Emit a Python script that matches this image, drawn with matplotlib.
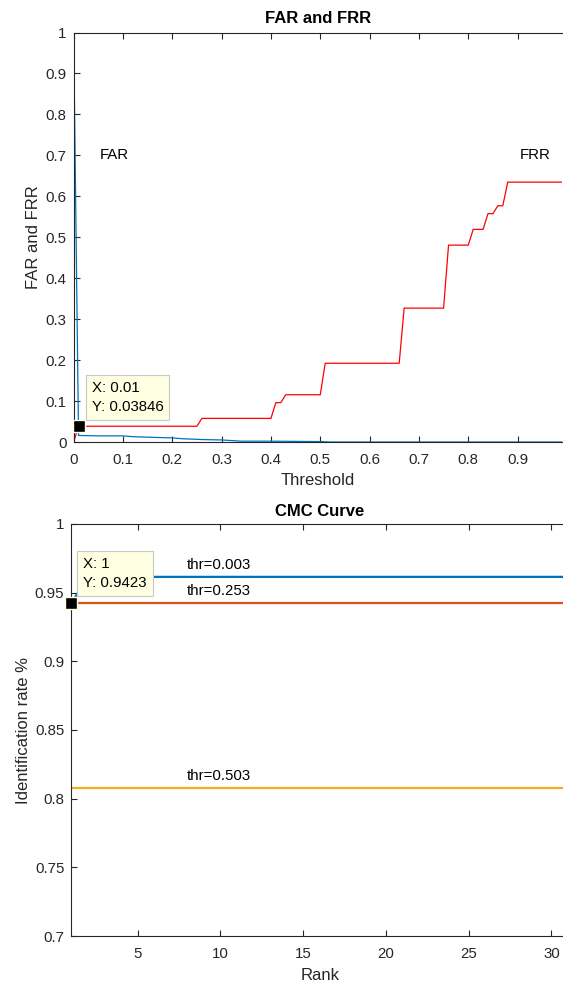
import matplotlib.pyplot as plt

plt.rcParams['font.family'] = ['Liberation Sans', 'DejaVu Sans']

# FAR / FRR vs threshold
far_thr = [0, 0.01, 0.05, 0.10, 0.12, 0.17, 0.20, 0.22, 0.26, 0.30, 0.34, 0.40, 0.45, 0.50, 0.52, 0.99]
far_val = [1, 0.016, 0.015, 0.015, 0.013, 0.011, 0.010, 0.008, 0.006, 0.005, 0.002, 0.002, 0.0015, 0.001, 0, 0]

frr_thr = [0, 0.01, 0.25, 0.26, 0.40, 0.41, 0.42, 0.43, 0.50, 0.51, 0.66, 0.67, 0.75, 0.76,
           0.80, 0.81, 0.83, 0.84, 0.85, 0.86, 0.87, 0.88, 0.99]
frr_val = [0, 0.03846, 0.03846, 0.05769, 0.05769, 0.09615, 0.09615, 0.11538, 0.11538, 0.19231,
           0.19231, 0.32692, 0.32692, 0.48077, 0.48077, 0.51923, 0.51923, 0.55769, 0.55769,
           0.57692, 0.57692, 0.63462, 0.63462]

# CMC curves, ranks 1..31
ranks = list(range(1, 32))
cmc_thr = ['thr=0.003', 'thr=0.253', 'thr=0.503']
cmc_val = [
    [0.9423] + [0.9615] * 30,
    [0.9423] * 31,
    [0.8077] * 31,
]
cmc_col = ['#0072BD', '#D95319', '#EDB120']

W, H = 563, 986
fig = plt.figure(figsize=(W / 100, H / 100), dpi=100)

dark = '#262626'
fs_tick = 10.8
fs_lab = 12


def style(ax):
    for s in ax.spines.values():
        s.set_color(dark)
        s.set_linewidth(0.8)
    ax.spines['right'].set_visible(False)
    ax.tick_params(direction='in', top=True, right=False, colors=dark,
                   labelsize=fs_tick, length=4, width=0.8)
    ax.tick_params(axis='x', pad=8)
    ax.tick_params(axis='y', pad=5)


def datatip(ax, x, y, txt, off):
    ax.plot(x, y, 's', color='black', ms=8, mec='#FFFFE1', mew=1, zorder=5, clip_on=False)
    ax.annotate(txt, xy=(x, y), xytext=off, textcoords='offset pixels',
                ha='left', va='bottom', fontsize=fs_tick, linespacing=1.45, color='black',
                bbox=dict(boxstyle='square,pad=0.4', fc='#FFFFE1', ec='#C8C8C8', lw=0.8),
                zorder=6)


# top: FAR and FRR
ax1 = fig.add_axes([73.6 / W, 1 - 442 / H, (562 - 73.6) / W, (442 - 32.5) / H])
ax1.plot(far_thr, far_val, color='#0072BD', lw=0.9)
ax1.plot(frr_thr, frr_val, color='#FF0000', lw=0.9)
ax1.set_xlim(0, 0.99)
ax1.set_ylim(0, 1)
ax1.set_xticks([0, 0.1, 0.2, 0.3, 0.4, 0.5, 0.6, 0.7, 0.8, 0.9])
ax1.set_xticklabels(['0', '0.1', '0.2', '0.3', '0.4', '0.5', '0.6', '0.7', '0.8', '0.9'])
ax1.set_yticks([0, 0.1, 0.2, 0.3, 0.4, 0.5, 0.6, 0.7, 0.8, 0.9, 1])
ax1.set_yticklabels(['0', '0.1', '0.2', '0.3', '0.4', '0.5', '0.6', '0.7', '0.8', '0.9', '1'])
style(ax1)
ax1.text(0.052, 0.7, 'FAR', fontsize=fs_tick, va='center', color='black')
ax1.text(0.904, 0.7, 'FRR', fontsize=fs_tick, va='center', color='black')
ax1.set_title('FAR and FRR', fontsize=fs_lab, fontweight='bold', pad=7)
ax1.set_xlabel('Threshold', fontsize=fs_lab, color=dark, labelpad=4)
ax1.set_ylabel('FAR and FRR', fontsize=fs_lab, color=dark, labelpad=3)
datatip(ax1, 0.01, 0.03846, 'X: 0.01\nY: 0.03846', (13, 12))

# bottom: CMC curve
ax2 = fig.add_axes([71.3 / W, 1 - 936 / H, (568 - 71.3) / W, (936 - 524) / H])
for vals, lab, c in zip(cmc_val, cmc_thr, cmc_col):
    ax2.plot(ranks, vals, color=c, lw=1.6)
    ax2.text(8, vals[-1] + 0.0087, lab, fontsize=fs_tick, va='center', color='black')
ax2.set_xlim(1, 31)
ax2.set_ylim(0.7, 1)
ax2.set_xticks([5, 10, 15, 20, 25, 30])
ax2.set_yticks([0.7, 0.75, 0.8, 0.85, 0.9, 0.95, 1])
ax2.set_yticklabels(['0.7', '0.75', '0.8', '0.85', '0.9', '0.95', '1'])
style(ax2)
ax2.set_title('CMC Curve', fontsize=fs_lab, fontweight='bold', pad=6)
ax2.set_xlabel('Rank', fontsize=fs_lab, color=dark, labelpad=5)
ax2.set_ylabel('Identification rate %', fontsize=fs_lab, color=dark, labelpad=3)
datatip(ax2, 1, 0.9423, 'X: 1\nY: 0.9423', (12, 13))

fig.savefig('out.png', dpi=100)
